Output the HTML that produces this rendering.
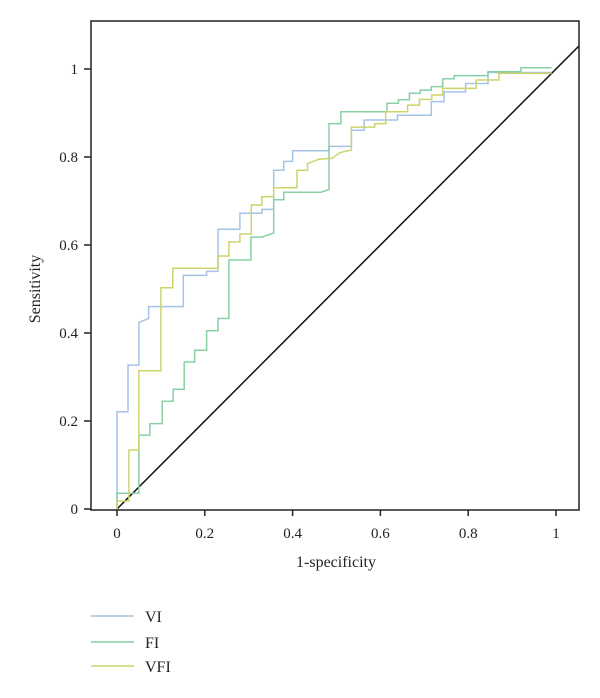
<!DOCTYPE html>
<html><head><meta charset="utf-8"><style>
html,body{margin:0;padding:0;background:#fff;}
svg{display:block;font-family:"Liberation Serif",serif;}
</style></head><body>
<svg id="chart" width="600" height="698" viewBox="0 0 600 698" xmlns="http://www.w3.org/2000/svg">
<g id="plot"></g>
<g id="axes"></g>
<text x="336" y="567" font-size="16" text-anchor="middle" fill="#222">1-specificity</text>
<text x="40" y="289" font-size="16" text-anchor="middle" fill="#222" transform="rotate(-90 40 289)">Sensitivity</text>
<g id="legend"></g>
</svg>
<script>
const seriesNames = ["VI","FI","VFI"];
const seriesColors = ["#a6c3e6","#88d0a4","#cdd46a"];
const xTicks = [0,0.2,0.4,0.6,0.8,1];
const yTicks = [0,0.2,0.4,0.6,0.8,1];
const tickLabels = ["0","0.2","0.4","0.6","0.8","1"];
// step curve vertices: x (1-specificity), y (sensitivity)
const viX = [0,0,0.025,0.025,0.05,0.05,0.072,0.072,0.151,0.151,0.204,0.204,0.23,0.23,0.28,0.28,0.33,0.33,0.357,0.357,0.38,0.38,0.40,0.40,0.483,0.483,0.534,0.534,0.563,0.563,0.639,0.639,0.716,0.716,0.745,0.745,0.794,0.794,0.845,0.845,0.99];
const viY = [0,0.221,0.221,0.327,0.327,0.424,0.433,0.46,0.46,0.531,0.531,0.54,0.54,0.636,0.636,0.672,0.672,0.681,0.681,0.77,0.77,0.79,0.79,0.814,0.814,0.824,0.824,0.861,0.861,0.884,0.884,0.895,0.895,0.926,0.926,0.948,0.948,0.967,0.967,0.992,0.992];
const fiX = [0,0,0.05,0.05,0.075,0.075,0.103,0.103,0.128,0.128,0.153,0.153,0.177,0.177,0.204,0.204,0.23,0.23,0.255,0.255,0.305,0.305,0.33,0.357,0.357,0.38,0.38,0.465,0.483,0.483,0.51,0.51,0.615,0.615,0.641,0.641,0.666,0.666,0.691,0.691,0.716,0.716,0.742,0.742,0.768,0.768,0.845,0.845,0.92,0.92,0.99];
const fiY = [0,0.036,0.036,0.168,0.168,0.194,0.194,0.245,0.245,0.272,0.272,0.334,0.334,0.361,0.361,0.405,0.405,0.433,0.433,0.566,0.566,0.618,0.618,0.627,0.703,0.703,0.72,0.72,0.726,0.876,0.876,0.903,0.903,0.922,0.922,0.930,0.930,0.945,0.945,0.952,0.952,0.96,0.96,0.978,0.978,0.985,0.985,0.994,0.994,1.003,1.003];
const vfiX = [0,0,0.027,0.027,0.05,0.05,0.1,0.1,0.127,0.127,0.23,0.23,0.255,0.255,0.28,0.28,0.306,0.306,0.33,0.33,0.357,0.357,0.41,0.41,0.434,0.434,0.46,0.49,0.508,0.534,0.534,0.587,0.587,0.612,0.612,0.662,0.662,0.689,0.689,0.717,0.717,0.742,0.742,0.818,0.818,0.87,0.87,0.99];
const vfiY = [0,0.018,0.018,0.134,0.134,0.314,0.314,0.503,0.503,0.547,0.547,0.575,0.575,0.607,0.607,0.625,0.625,0.691,0.691,0.71,0.71,0.73,0.73,0.77,0.77,0.785,0.795,0.797,0.81,0.816,0.868,0.868,0.876,0.876,0.903,0.903,0.918,0.918,0.931,0.931,0.941,0.941,0.956,0.956,0.975,0.975,0.99,0.99];
const seriesX = [viX,fiX,vfiX];
const seriesY = [viY,fiY,vfiY];

const L=91,R=579,T=21,B=510;
const x0=117, xUnit=439, y0=509, yUnit=440;
const sx=v=>x0+v*xUnit, sy=v=>y0-v*yUnit;
const NS="http://www.w3.org/2000/svg";
const svg=document.getElementById('chart');
const plot=document.getElementById('plot'), axes=document.getElementById('axes'), legend=document.getElementById('legend');
function mk(tag,attrs,parent){const e=document.createElementNS(NS,tag);for(const k in attrs)e.setAttribute(k,attrs[k]);parent.appendChild(e);return e;}

const defs=mk('defs',{},svg);
const cp=mk('clipPath',{id:'clip'},defs);
mk('rect',{x:L,y:T,width:R-L,height:B-T},cp);
plot.setAttribute('clip-path','url(#clip)');

const diag=mk('line',{x1:sx(0),y1:sy(0),x2:sx(1.2),y2:sy(1.2),stroke:'#111','stroke-width':1.5},plot);



for(let s=0;s<seriesNames.length;s++){
  const pts=seriesX[s].map((v,i)=>sx(v).toFixed(1)+','+sy(seriesY[s][i]).toFixed(1)).join(' ');
  const pl=mk('polyline',{points:pts,fill:'none',stroke:seriesColors[s],'stroke-width':1.5},plot);
  
  
}

const frame=mk('rect',{x:L,y:T,width:R-L,height:B-T,fill:'none',stroke:'#222','stroke-width':1.5},axes);



xTicks.forEach((v,i)=>{
  const t=mk('line',{x1:sx(v),y1:B,x2:sx(v),y2:B+6,stroke:'#222','stroke-width':1.5},axes);
  
  
  const lb=mk('text',{x:sx(v),y:538,'font-size':15,'text-anchor':'middle',fill:'#222'},axes);
  lb.textContent=tickLabels[i];
  
  
});
yTicks.forEach((v,i)=>{
  const t=mk('line',{x1:L-7,y1:sy(v),x2:L,y2:sy(v),stroke:'#222','stroke-width':1.5},axes);
  
  
  const lb=mk('text',{x:78,y:sy(v)+5,'font-size':15,'text-anchor':'end',fill:'#222'},axes);
  lb.textContent=tickLabels[i];
  
  
});

const legY=[616,642,666];
seriesNames.forEach((n,i)=>{
  const g=mk('g',{},legend);
  
  
  mk('line',{x1:91,y1:legY[i],x2:134,y2:legY[i],stroke:seriesColors[i],'stroke-width':1.5},g);
  const tx=mk('text',{x:145,y:legY[i]+6,'font-size':16,fill:'#222'},g);
  tx.textContent=n;
});
</script>
</body></html>
